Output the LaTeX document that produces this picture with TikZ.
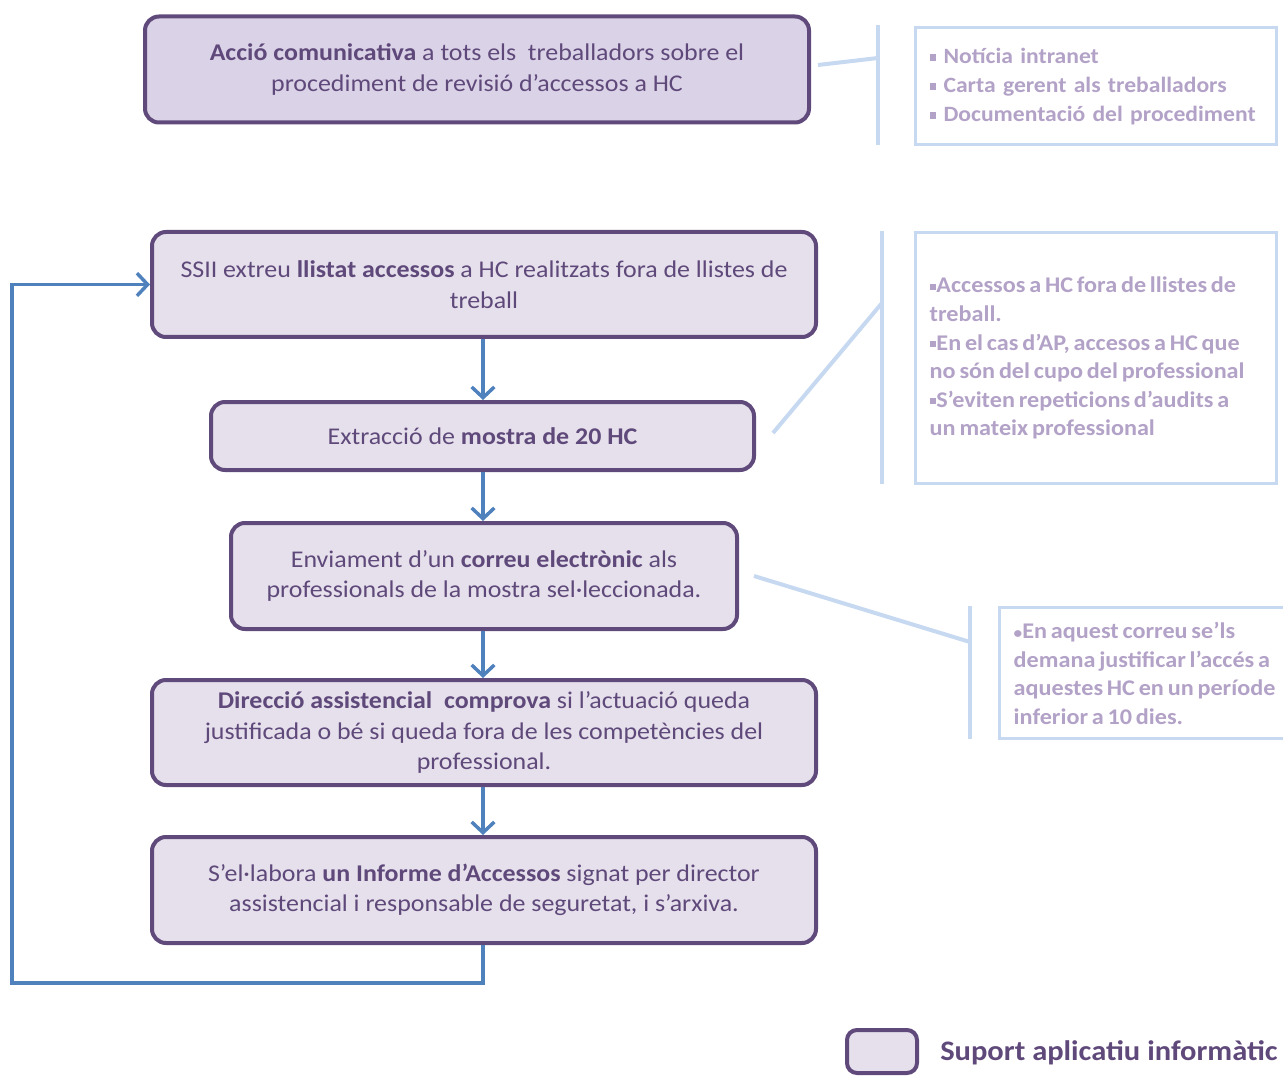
\documentclass[tikz,border=0pt]{standalone}
\usepackage{fontspec}
\setmainfont{Carlito}[FakeStretch=1.08]
\usetikzlibrary{arrows.meta}
\definecolor{pborder}{HTML}{604A7B}
\definecolor{pfill}{HTML}{E5E0EC}
\definecolor{pfilltop}{HTML}{DAD2E7}
\definecolor{ptext}{HTML}{5F497A}
\definecolor{ctext}{HTML}{B3A2C7}
\definecolor{cline}{HTML}{C6D9F1}
\definecolor{flow}{HTML}{4F81BD}
\newcommand{\sqb}{\rule[0.12em]{0.3em}{0.3em}}
\newcommand{\tightspace}{\spaceskip=0.17em plus 0.05em minus 0.02em\relax}
\begin{document}
\begin{tikzpicture}[x=0.75pt,y=-0.75pt,
  pbox/.style={draw=pborder, line width=3pt, fill=pfill, rounded corners=10.5pt,
    text=ptext, align=center, inner sep=0pt, font=\fontsize{18pt}{22.8pt}\selectfont},
  flowarrow/.style={draw=flow, line width=2.6pt,
    -{Straight Barb[length=8pt, width=17pt, line width=2.6pt]}},
  cbox/.style={draw=cline, line width=2.6pt, fill=white, text=ctext, align=left,
    inner xsep=10.5pt, inner ysep=0pt, anchor=north west},
  cfontA/.style={font=\bfseries\fontsize{16.4pt}{21.75pt}\selectfont},
  cfontB/.style={font=\bfseries\fontsize{16.8pt}{21.4pt}\selectfont},
  cline/.style={draw=cline, line width=3pt},
]
\useasboundingbox (0,0) rectangle (1283,1077);

% main flow boxes
\node[pbox, fill=pfilltop, minimum width=498pt, minimum height=79.5pt] (a) at (477,69.5)
  {\textbf{Acció comunicativa} a tots els~ treballadors sobre el\\procediment de revisió d’accessos a HC};
\node[pbox, minimum width=498pt, minimum height=78.75pt] (b) at (484,284.5)
  {SSII extreu \textbf{llistat accessos} a HC realitzats fora de llistes de\\treball};
\node[pbox, minimum width=407.25pt, minimum height=51pt] (c) at (482.5,436)
  {Extracció de \textbf{mostra de 20 HC}};
\node[pbox, minimum width=379.5pt, minimum height=79.5pt] (d) at (484,576)
  {Enviament d’un \textbf{correu electrònic} als\\professionals de la mostra sel·leccionada.};
\node[pbox, minimum width=498pt, minimum height=78.75pt] (e) at (484,732.5)
  {\textbf{Direcció assistencial~ comprova} si l’actuació queda\\justificada o bé si queda fora de les competències del\\professional.};
\node[pbox, minimum width=498pt, minimum height=79.5pt] (f) at (484,890)
  {S’el·labora \textbf{un Informe d’Accessos} signat per director\\assistencial i responsable de seguretat, i s’arxiva.};

% flow arrows
\coordinate (ax) at (483,0);
\draw[flowarrow] (b.south -| ax) -- (c.north -| ax);
\draw[flowarrow] (c.south -| ax) -- (d.north -| ax);
\draw[flowarrow] (d.south -| ax) -- (e.north -| ax);
\draw[flowarrow] (e.south -| ax) -- (f.north -| ax);
\coordinate (loopcorner) at (12,983);
\draw[flowarrow] (f.south -| ax) |- (loopcorner) |- (b.west);

% callout 1
\node[cbox, cfontA, minimum width=270.75pt, minimum height=87.75pt, text width=249.75pt] (n1) at (914,26)
  {\sqb\ Notícia intranet\\\sqb\ Carta gerent als treballadors\\\sqb\ Documentació del procediment};
\coordinate (bar1t) at (878,25);
\coordinate (bar1b) at (878,145);
\coordinate (lead1a) at (818,65);
\coordinate (lead1b) at (878,58);
\draw[cline] (bar1t) -- (bar1b);
\draw[cline] (lead1a) -- (lead1b);

% callout 2
\node[cbox, cfontB, minimum width=270.75pt, minimum height=188.25pt, text width=249.75pt] (n2) at (914,231)
  {\tightspace\sqb Accessos a HC fora de llistes de\\treball.\\\sqb En el cas d’AP, accesos a HC que\\no són del cupo del professional\\\sqb S’eviten repeticions d’audits a\\un mateix professional};
\coordinate (bar2t) at (882,231);
\coordinate (bar2b) at (882,484);
\coordinate (lead2a) at (773,433);
\coordinate (lead2b) at (882,303);
\draw[cline] (bar2t) -- (bar2b);
\draw[cline] (lead2a) -- (lead2b);

% callout 3
\node[cbox, cfontB, minimum width=225pt, minimum height=98.25pt, text width=204pt] (n3) at (998,606)
  {\tightspace{\fontsize{12pt}{12pt}\selectfont•}En aquest correu se’ls\\demana justificar l’accés a\\aquestes HC en un període\\inferior a 10 dies.};
\coordinate (bar3t) at (970,606);
\coordinate (bar3b) at (970,739);
\coordinate (lead3a) at (754,576);
\coordinate (lead3b) at (970,642);
\draw[cline] (bar3t) -- (bar3b);
\draw[cline] (lead3a) -- (lead3b);

% legend
\node[pbox, rounded corners=7.5pt, minimum width=52.5pt, minimum height=32.25pt] (leg) at (882,1051.5) {};
\node[anchor=west, text=ptext, font=\bfseries\fontsize{21.2pt}{24pt}\selectfont, inner sep=0pt] (legtext) at (940,1053)
  {Suport aplicatiu informàtic};
\end{tikzpicture}
\end{document}
